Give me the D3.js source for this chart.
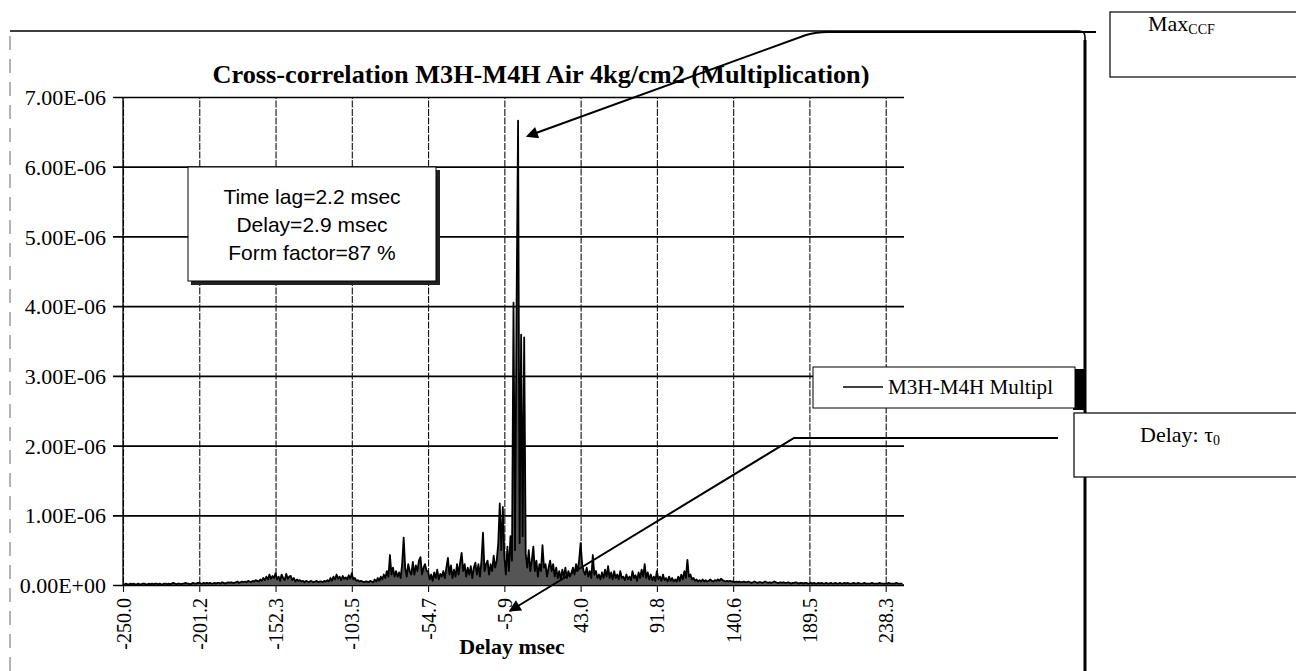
<!DOCTYPE html>
<html><head><meta charset="utf-8">
<script src="https://cdn.jsdelivr.net/npm/d3@7"></script>
<style>
html,body{margin:0;padding:0;background:#fff;}
svg{display:block;}
</style></head><body>
<svg id="chart" width="1296" height="671"></svg>
<script>
// Cross-correlation of the M3H and M4H signals (air, 4 kg/cm2), product method
const chartTitle = "Cross-correlation M3H-M4H Air 4kg/cm2 (Multiplication)";
const xTitle = "Delay msec";
const seriesName = "M3H-M4H Multipl";
const delayRange = [-250, 250];          // msec
const xTickValues = [-250, -201.17, -152.34, -103.52, -54.69, -5.86, 42.97, 91.80, 140.63, 189.45, 238.28];
const xTickLabels = ["-250.0", "-201.2", "-152.3", "-103.5", "-54.7", "-5.9", "43.0", "91.8", "140.6", "189.5", "238.3"];
const yTickValues = [0, 1, 2, 3, 4, 5, 6, 7];   // in units of 1e-6
const yTickLabels = ["0.00E+00", "1.00E-06", "2.00E-06", "3.00E-06", "4.00E-06", "5.00E-06", "6.00E-06", "7.00E-06"];
const infoLines = ["Time lag=2.2 msec", "Delay=2.9 msec", "Form factor=87 %"];

// CCF samples (units of 1e-6), evenly spaced over the delay range
const ccf = [
  0.01,0.01,0.02,0.01,0.01,0.02,0.01,0.02,0.01,0.01,
  0.02,0.01,0.01,0.02,0.02,0.01,0.01,0.02,0.01,0.02,
  0.01,0.02,0.02,0.01,0.02,0.01,0.01,0.02,0.02,0.01,
  0.02,0.01,0.02,0.03,0.02,0.01,0.02,0.02,0.01,0.02,
  0.02,0.03,0.02,0.02,0.01,0.02,0.03,0.02,0.02,0.03,
  0.03,0.02,0.02,0.03,0.02,0.03,0.02,0.03,0.02,0.02,
  0.03,0.02,0.03,0.03,0.02,0.04,0.03,0.02,0.03,0.04,
  0.03,0.04,0.03,0.03,0.04,0.05,0.03,0.04,0.05,0.04,
  0.05,0.04,0.06,0.05,0.04,0.06,0.05,0.07,0.06,0.05,
  0.08,0.06,0.10,0.07,0.12,0.08,0.15,0.09,0.13,0.10,
  0.17,0.08,0.12,0.06,0.15,0.10,0.07,0.16,0.09,0.12,
  0.13,0.07,0.10,0.05,0.08,0.06,0.07,0.05,0.06,0.04,
  0.06,0.05,0.04,0.06,0.05,0.04,0.05,0.06,0.04,0.05,
  0.05,0.04,0.06,0.05,0.07,0.05,0.10,0.06,0.12,0.08,
  0.15,0.09,0.12,0.07,0.13,0.09,0.11,0.08,0.14,0.09,
  0.17,0.08,0.10,0.06,0.07,0.05,0.06,0.05,0.04,0.05,
  0.05,0.04,0.06,0.05,0.04,0.08,0.05,0.10,0.06,0.12,
  0.08,0.15,0.10,0.20,0.12,0.43,0.15,0.25,0.12,0.20,
  0.12,0.18,0.10,0.30,0.68,0.25,0.12,0.30,0.20,0.15,
  0.33,0.15,0.28,0.20,0.35,0.40,0.15,0.25,0.30,0.20,
  0.20,0.08,0.15,0.06,0.18,0.10,0.22,0.08,0.16,0.12,
  0.20,0.10,0.25,0.39,0.15,0.28,0.10,0.22,0.12,0.30,
  0.15,0.32,0.46,0.20,0.30,0.12,0.25,0.15,0.27,0.10,
  0.25,0.32,0.15,0.30,0.12,0.35,0.75,0.20,0.30,0.35,
  0.15,0.30,0.20,0.42,0.25,0.35,0.60,1.17,0.50,1.12,
  0.40,0.15,0.55,0.20,0.70,0.35,4.05,0.50,3.95,6.66,
  0.60,3.59,0.70,3.55,0.45,0.25,0.50,0.20,0.35,0.55,
  0.20,0.35,0.12,0.30,0.20,0.57,0.25,0.30,0.12,0.25,
  0.35,0.20,0.30,0.12,0.25,0.10,0.20,0.08,0.22,0.12,
  0.25,0.10,0.20,0.12,0.18,0.25,0.15,0.30,0.20,0.35,
  0.60,0.30,0.20,0.15,0.25,0.12,0.20,0.10,0.43,0.15,
  0.20,0.10,0.15,0.08,0.18,0.10,0.22,0.12,0.27,0.10,
  0.18,0.08,0.20,0.10,0.15,0.08,0.20,0.10,0.12,0.07,
  0.15,0.08,0.12,0.07,0.20,0.10,0.14,0.06,0.18,0.10,
  0.22,0.12,0.30,0.10,0.18,0.08,0.15,0.07,0.12,0.06,
  0.20,0.08,0.12,0.06,0.15,0.07,0.10,0.05,0.12,0.06,
  0.10,0.05,0.08,0.05,0.12,0.06,0.15,0.08,0.20,0.10,
  0.36,0.12,0.15,0.08,0.10,0.06,0.08,0.05,0.07,0.05,
  0.08,0.05,0.07,0.05,0.06,0.08,0.06,0.05,0.07,0.06,
  0.08,0.06,0.09,0.07,0.06,0.05,0.06,0.05,0.06,0.05,
  0.05,0.04,0.05,0.04,0.05,0.04,0.04,0.05,0.04,0.04,
  0.05,0.04,0.03,0.04,0.05,0.04,0.03,0.04,0.04,0.03,
  0.04,0.05,0.04,0.03,0.04,0.03,0.04,0.05,0.04,0.03,
  0.03,0.04,0.03,0.04,0.03,0.03,0.04,0.03,0.02,0.03,
  0.03,0.04,0.03,0.02,0.03,0.03,0.02,0.03,0.03,0.02,
  0.02,0.03,0.02,0.03,0.02,0.02,0.03,0.02,0.03,0.02,
  0.02,0.03,0.02,0.02,0.03,0.02,0.02,0.03,0.02,0.02,
  0.03,0.02,0.02,0.03,0.02,0.03,0.02,0.02,0.02,0.03,
  0.02,0.02,0.03,0.02,0.02,0.02,0.03,0.02,0.02,0.02,
  0.02,0.03,0.02,0.02,0.02,0.02,0.03,0.02,0.02,0.02,
  0.02,0.02,0.03,0.02,0.02,0.02,0.02,0.03,0.02,0.02,
  0.02,0.02
];

const svg = d3.select("#chart");
const serif = "'Liberation Serif','Times New Roman',serif";
const sans = "'Liberation Sans',Arial,sans-serif";

const plot = { left: 123, right: 904, top: 97, bottom: 585 };
const x = d3.scaleLinear().domain(delayRange).range([plot.left, plot.right]);
const y = d3.scaleLinear().domain([0, 7]).range([plot.bottom, plot.top]);
const step = (delayRange[1] - delayRange[0]) / ccf.length;

// chart-area frame
svg.append("path")
  .attr("d", "M10,671 L10,31")
  .attr("stroke", "#666").attr("stroke-width", 1).attr("stroke-dasharray", "14,9").attr("fill", "none");
svg.append("path")
  .attr("d", "M10,31 L1079,31 Q1085,31 1085,37 L1085,671")
  .attr("stroke", "#000").attr("stroke-width", 1.6).attr("fill", "none");
svg.append("line").attr("x1", 1085).attr("x2", 1085).attr("y1", 40).attr("y2", 671)
  .attr("stroke", "#000").attr("stroke-width", 3);

// horizontal gridlines (with left tick marks)
const yAxis = d3.axisLeft(y).tickValues(yTickValues)
  .tickFormat((d, i) => yTickLabels[i])
  .tickSizeInner(-(plot.right - plot.left)).tickSizeOuter(0).tickPadding(17);
const gy = svg.append("g").attr("transform", `translate(${plot.left},0)`).call(yAxis);
gy.select(".domain").remove();
gy.selectAll(".tick line").attr("x1", -10).attr("stroke", "#000").attr("stroke-width", 1.7);
gy.selectAll(".tick text")
  .attr("font-family", serif).attr("font-size", 22).attr("fill", "#000").attr("dy", "0.35em");

// vertical gridlines (with bottom tick marks)
const xAxis = d3.axisBottom(x).tickValues(xTickValues)
  .tickFormat((d, i) => xTickLabels[i])
  .tickSizeInner(0).tickSizeOuter(0);
const gx = svg.append("g").attr("transform", `translate(0,${plot.bottom})`).call(xAxis);
gx.select(".domain").remove();
gx.selectAll(".tick line")
  .attr("y1", 7).attr("y2", -(plot.bottom - plot.top))
  .attr("stroke", "#111").attr("stroke-width", 1.1).attr("stroke-dasharray", "7,1.5");
gx.selectAll(".tick text")
  .attr("font-family", serif).attr("font-size", 20).attr("fill", "#000")
  .attr("text-anchor", "end").attr("transform", "rotate(-90)")
  .attr("x", -13).attr("y", 0).attr("dy", "0.35em");

// axis lines
svg.append("line").attr("x1", plot.left).attr("x2", plot.left).attr("y1", plot.top).attr("y2", plot.bottom)
  .attr("stroke", "#000").attr("stroke-width", 1.3);
svg.append("line").attr("x1", plot.left).attr("x2", plot.right).attr("y1", plot.bottom).attr("y2", plot.bottom)
  .attr("stroke", "#000").attr("stroke-width", 1.7);

// CCF trace: the dense oscillation reads as a dark band under the curve
const sx = (d, i) => x(delayRange[0] + i * step);
const area = d3.area().x(sx).y0(y(0)).y1(d => y(d));
svg.append("path").datum(ccf)
  .attr("d", area).attr("fill", "#555").attr("stroke", "none");
const line = d3.line().x(sx).y(d => y(d));
svg.append("path").datum(ccf)
  .attr("d", line).attr("fill", "none")
  .attr("stroke", "#000").attr("stroke-width", 1.8).attr("stroke-linejoin", "round");

// titles
svg.append("text").attr("x", 541).attr("y", 83).attr("text-anchor", "middle")
  .attr("font-family", serif).attr("font-weight", "bold").attr("font-size", 25)
  .attr("textLength", 657).attr("lengthAdjust", "spacingAndGlyphs")
  .text(chartTitle);
svg.append("text").attr("x", 512).attr("y", 654).attr("text-anchor", "middle")
  .attr("font-family", serif).attr("font-weight", "bold").attr("font-size", 22)
  .text(xTitle);

// info box with shadow
const info = svg.append("g");
info.append("rect").attr("x", 191).attr("y", 170).attr("width", 249).attr("height", 115).attr("fill", "#222");
info.append("rect").attr("x", 188).attr("y", 167).attr("width", 248).attr("height", 114)
  .attr("fill", "#fff").attr("stroke", "#000").attr("stroke-width", 1);
info.selectAll("text").data(infoLines).join("text")
  .attr("x", 312).attr("y", (d, i) => 204 + i * 28).attr("text-anchor", "middle")
  .attr("font-family", sans).attr("font-size", 21).attr("fill", "#000")
  .text(d => d);

// legend
const lg = svg.append("g");
lg.append("rect").attr("x", 1073).attr("y", 369).attr("width", 12).attr("height", 41).attr("fill", "#000");
lg.append("rect").attr("x", 813).attr("y", 367).attr("width", 262).attr("height", 41)
  .attr("fill", "#fff").attr("stroke", "#000").attr("stroke-width", 1);
lg.append("line").attr("x1", 843).attr("x2", 883).attr("y1", 387).attr("y2", 387)
  .attr("stroke", "#000").attr("stroke-width", 1.5);
lg.append("text").attr("x", 888).attr("y", 394)
  .attr("font-family", serif).attr("font-size", 20).attr("fill", "#000")
  .attr("textLength", 165).attr("lengthAdjust", "spacingAndGlyphs")
  .text(seriesName);

// callout arrows
const defs = svg.append("defs");
defs.append("marker").attr("id", "head")
  .attr("viewBox", "0 0 10 10").attr("refX", 1).attr("refY", 5)
  .attr("markerWidth", 8).attr("markerHeight", 6).attr("markerUnits", "strokeWidth")
  .attr("orient", "auto-start-reverse")
  .append("path").attr("d", "M0,0 L10,5 L0,10 z").attr("fill", "#000");

svg.append("path")
  .attr("d", "M536,133 L806,35 Q816,32 828,32 L1096,32")
  .attr("fill", "none").attr("stroke", "#000").attr("stroke-width", 2)
  .attr("marker-start", "url(#head)");
svg.append("path")
  .attr("d", "M518,606 L794,438 L1058,438")
  .attr("fill", "none").attr("stroke", "#000").attr("stroke-width", 2)
  .attr("marker-start", "url(#head)");

// callout boxes
const maxBox = svg.append("g");
maxBox.append("rect").attr("x", 1110).attr("y", 12).attr("width", 200).attr("height", 65)
  .attr("fill", "#fff").attr("stroke", "#000").attr("stroke-width", 1.2);
const maxText = maxBox.append("text").attr("x", 1148).attr("y", 31)
  .attr("font-family", serif).attr("font-size", 22).attr("fill", "#000");
maxText.append("tspan").text("Max");
maxText.append("tspan").attr("font-size", 14).attr("dy", 3).text("CCF");

const delayBox = svg.append("g");
delayBox.append("rect").attr("x", 1074).attr("y", 413).attr("width", 240).attr("height", 64)
  .attr("fill", "#fff").attr("stroke", "#000").attr("stroke-width", 1.2);
const delayText = delayBox.append("text").attr("x", 1140).attr("y", 442)
  .attr("font-family", serif).attr("font-size", 22).attr("fill", "#000");
delayText.append("tspan").text("Delay: \u03C4");
delayText.append("tspan").attr("font-size", 14).attr("dy", 3).text("0");
</script>
</body></html>
